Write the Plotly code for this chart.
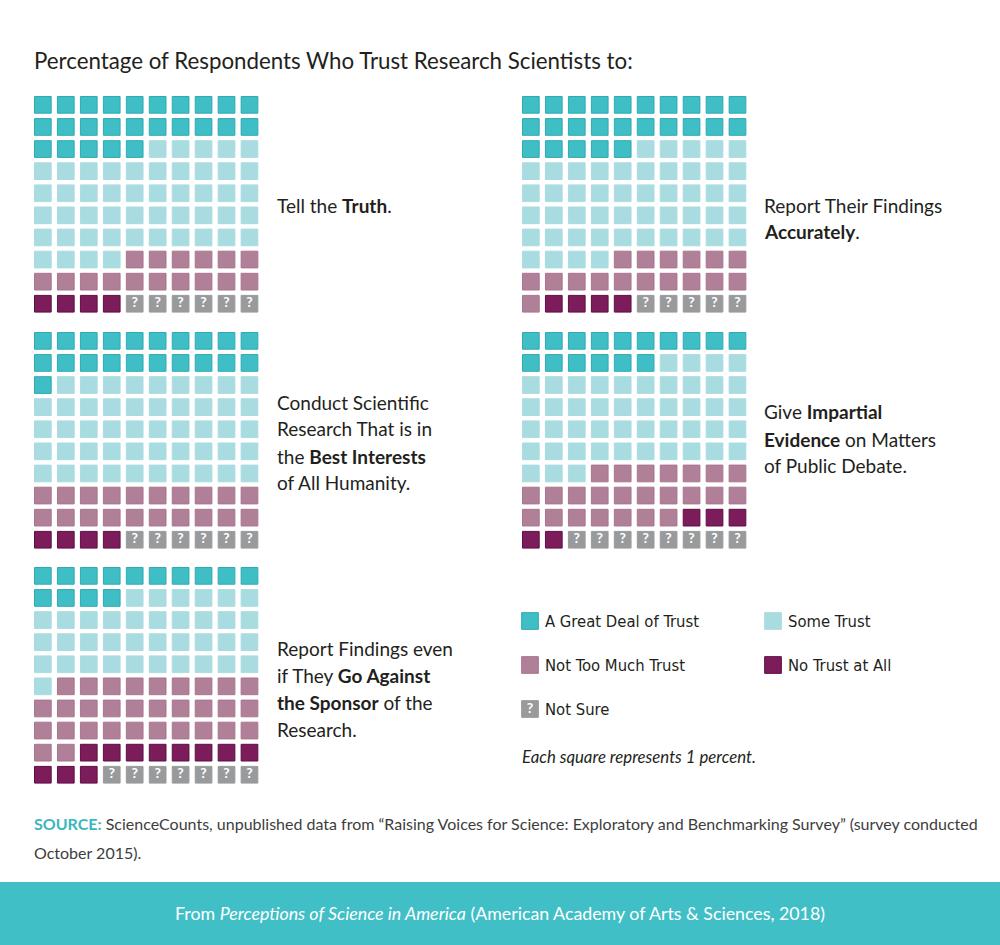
import plotly.graph_objects as go

# ---------------- data ----------------
categories = ["A Great Deal of Trust", "Some Trust", "Not Too Much Trust", "No Trust at All", "Not Sure"]
questions = [
    "Tell the Truth",
    "Report Their Findings Accurately",
    "Conduct Scientific Research That is in the Best Interests of All Humanity",
    "Give Impartial Evidence on Matters of Public Debate",
    "Report Findings even if They Go Against the Sponsor of the Research",
]
great_deal = [25, 25, 21, 16, 14]
some_trust = [49, 49, 49, 47, 37]
not_too_much = [16, 17, 20, 24, 31]
no_trust = [4, 4, 4, 5, 11]
not_sure = [6, 5, 6, 8, 7]

label_lines = [
    ["Tell the <b>Truth</b>."],
    ["Report Their Findings", "<b>Accurately</b>."],
    ["Conduct Scientific", "Research That is in", "the <b>Best Interests</b>", "of All Humanity."],
    ["Give <b>Impartial</b>", "<b>Evidence</b> on Matters", "of Public Debate."],
    ["Report Findings even", "if They <b>Go Against</b>", "<b>the Sponsor</b> of the", "Research."],
]

title_text = "Percentage of Respondents Who Trust Research Scientists to:"
note_text = "Each square represents 1 percent."
source_line1 = ("<b>SOURCE:</b>", " ScienceCounts, unpublished data from “Raising Voices for Science: Exploratory and Benchmarking Survey” (survey conducted")
source_line2 = "October 2015)."
footer_text = "From <i>Perceptions of Science in America</i> (American Academy of Arts & Sciences, 2018)"

# ---------------- styles / layout ----------------
W, H = 1000, 945
colors = ["#3fbec6", "#a9dce0", "#b07f98", "#7c1c5b", "#999a9c"]
edge_colors = ["#2eaab2", "#a9dce0", "#a9758f", "#5f0e45", "#999a9c"]
MAIN_FONT = "Lato"
LEGEND_FONT = "DejaVu Sans"
TXT = "#231f20"

waffle_left = [34, 522, 34, 522, 34]
waffle_top = [96, 96, 332, 332, 567]
pitch_x, pitch_y, sq = 22.96, 22.1, 17.7
label_x = [275, 762, 275, 762, 275]
label_y = [[206], [206, 232], [402, 429, 456, 483], [412, 439, 466], [648, 675, 702, 729]]


def px_x(x):
    return x / W


def px_y(y):
    return 1 - y / H


fig = go.Figure()
series = [great_deal, some_trust, not_too_much, no_trust, not_sure]

for q in range(len(questions)):
    ax = "" if q == 0 else str(q + 1)
    idx = 0
    for c, cat in enumerate(categories):
        n = series[c][q]
        xs, ys = [], []
        for k in range(n):
            xs.append(idx % 10)
            ys.append(idx // 10)
            idx += 1
        fig.add_trace(go.Scatter(
            x=xs, y=ys, mode="markers+text" if c == 4 else "markers",
            text=["<b>?</b>"] * n if c == 4 else None,
            textposition="middle center",
            textfont=dict(color="white", size=14, family="Lato"),
            marker=dict(symbol="square", size=sq - 1, color=colors[c],
                        line=dict(color=edge_colors[c], width=1)),
            name=cat, showlegend=False, hoverinfo="skip",
            xaxis="x" + ax, yaxis="y" + ax,
        ))
    left = waffle_left[q] + sq / 2 - pitch_x / 2
    right = left + 10 * pitch_x
    top = waffle_top[q] + sq / 2 - pitch_y / 2
    bottom = top + 10 * pitch_y
    fig.layout["xaxis" + ax] = dict(domain=[px_x(left), px_x(right)], range=[-0.5, 9.5],
                                    visible=False, fixedrange=True)
    fig.layout["yaxis" + ax] = dict(domain=[px_y(bottom), px_y(top)], range=[9.5, -0.5],
                                    visible=False, fixedrange=True)
    for line, yy in zip(label_lines[q], label_y[q]):
        fig.add_annotation(x=px_x(label_x[q]), y=px_y(yy), xref="paper", yref="paper",
                           text=line, showarrow=False, xanchor="left", yanchor="middle",
                           font=dict(family=MAIN_FONT, size=19, color=TXT))

# legend (overlay pixel axis)
leg_x = [530, 773, 530, 773, 530]
leg_y = [621, 621, 665, 665, 709]
fig.layout["xaxis6"] = dict(domain=[0, 1], range=[0, W], visible=False, fixedrange=True)
fig.layout["yaxis6"] = dict(domain=[0, 1], range=[H, 0], visible=False, fixedrange=True)
for c, cat in enumerate(categories):
    fig.add_trace(go.Scatter(
        x=[leg_x[c]], y=[leg_y[c]], mode="markers+text" if c == 4 else "markers",
        text=["<b>?</b>"] if c == 4 else None, textposition="middle center",
        textfont=dict(color="white", size=14, family="Lato"),
        marker=dict(symbol="square", size=sq - 1, color=colors[c],
                    line=dict(color=edge_colors[c], width=1)),
        showlegend=False, hoverinfo="skip", xaxis="x6", yaxis="y6",
    ))
    fig.add_annotation(x=px_x(leg_x[c] + 13), y=px_y(leg_y[c]), xref="paper", yref="paper",
                       text="<span style='font-stretch:condensed'>" + cat + "</span>",
                       showarrow=False, xanchor="left", yanchor="middle",
                       font=dict(family=LEGEND_FONT, size=16.5, color=TXT))

fig.add_annotation(x=px_x(520), y=px_y(756), xref="paper", yref="paper",
                   text="<i>" + note_text + "</i>", showarrow=False, xanchor="left", yanchor="middle",
                   font=dict(family=MAIN_FONT, size=16.8, color=TXT))

# title
fig.add_annotation(x=px_x(32), y=px_y(60), xref="paper", yref="paper", text=title_text,
                   showarrow=False, xanchor="left", yanchor="middle",
                   font=dict(family=MAIN_FONT, size=22.3, color=TXT))

# source
fig.add_annotation(x=px_x(32), y=px_y(823), xref="paper", yref="paper",
                   text="<span style='color:#3bb6be'>" + source_line1[0] + "</span>" + source_line1[1],
                   showarrow=False, xanchor="left", yanchor="middle",
                   font=dict(family=MAIN_FONT, size=16, color="#3d3d3d"))
fig.add_annotation(x=px_x(32), y=px_y(852), xref="paper", yref="paper", text=source_line2,
                   showarrow=False, xanchor="left", yanchor="middle",
                   font=dict(family=MAIN_FONT, size=16, color="#3d3d3d"))

# footer band
fig.add_shape(type="rect", xref="paper", yref="paper", x0=0, x1=1, y0=0, y1=px_y(882),
              fillcolor="#41bfc7", line=dict(width=0), layer="below")
fig.add_annotation(x=0.5, y=px_y(913), xref="paper", yref="paper", text=footer_text,
                   showarrow=False, xanchor="center", yanchor="middle",
                   font=dict(family=MAIN_FONT, size=17.8, color="white"))

fig.update_layout(width=W, height=H, margin=dict(l=0, r=0, t=0, b=0),
                  paper_bgcolor="white", plot_bgcolor="rgba(0,0,0,0)")

fig.write_html("out.html", config={"displayModeBar": False},
               post_script="document.body.style.margin='0';document.body.style.overflow='hidden';")
